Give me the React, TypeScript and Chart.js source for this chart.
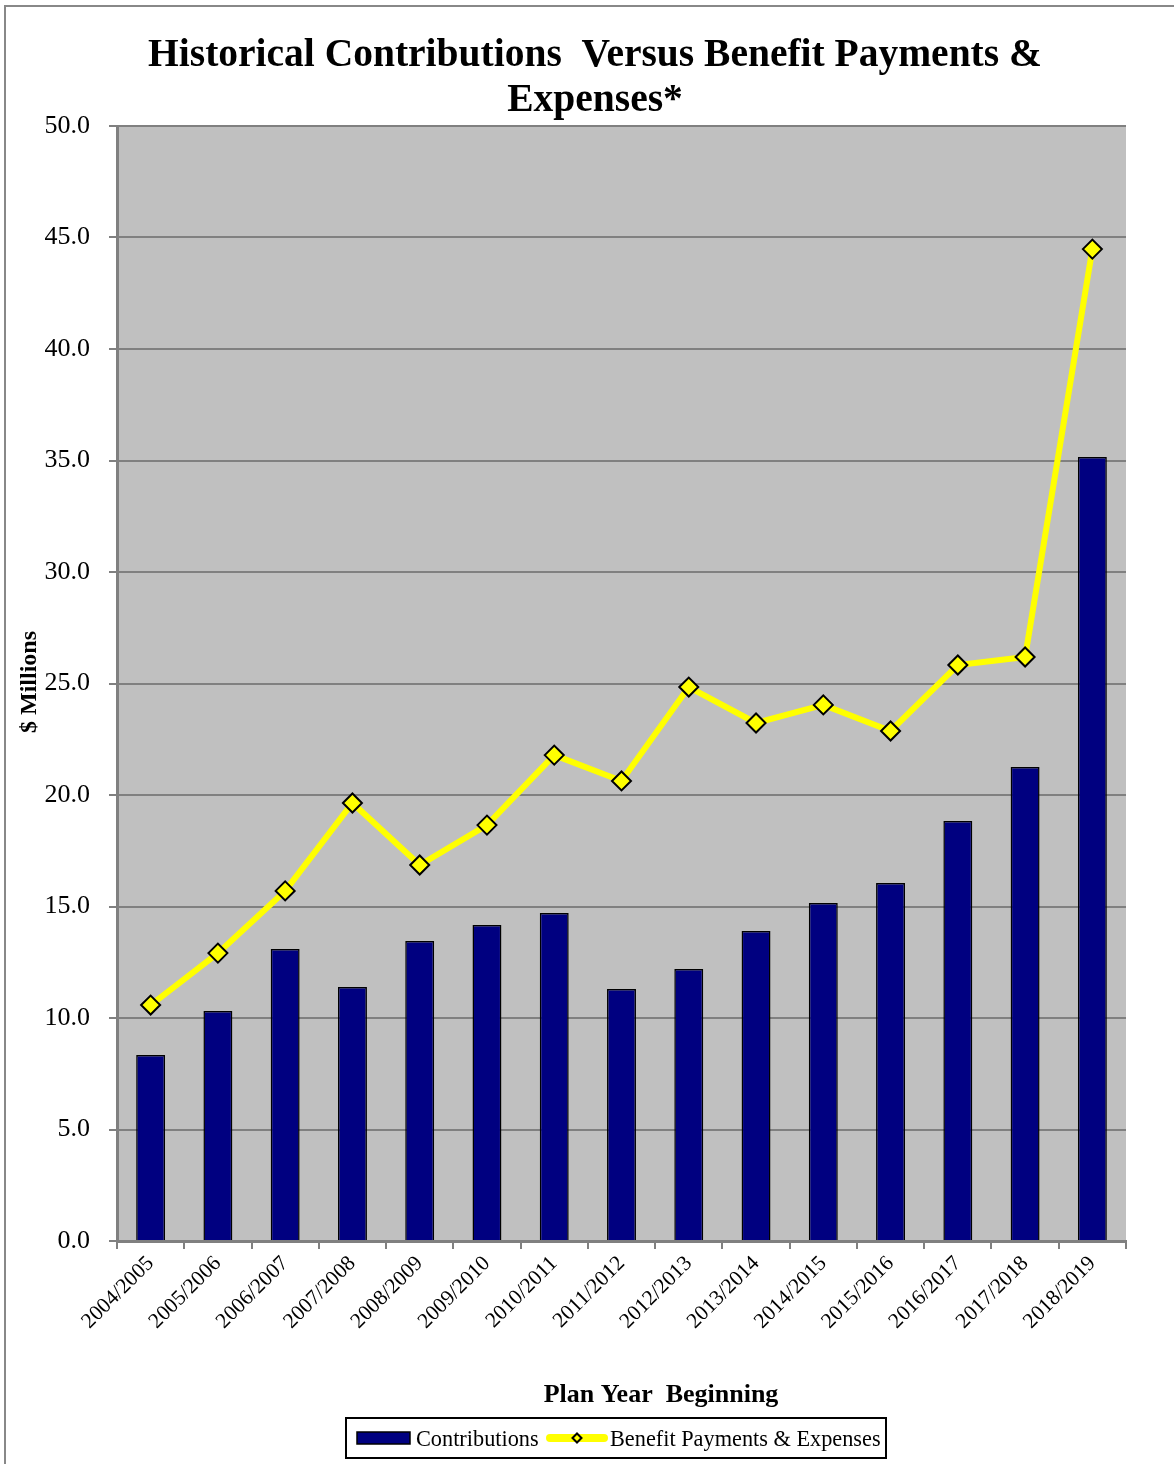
import React, { useEffect, useRef } from "react";
import { Chart, registerables } from "chart.js";

Chart.register(...registerables);

const categories = [
  "2004/2005", "2005/2006", "2006/2007", "2007/2008", "2008/2009",
  "2009/2010", "2010/2011", "2011/2012", "2012/2013", "2013/2014",
  "2014/2015", "2015/2016", "2016/2017", "2017/2018", "2018/2019",
];
const contributions = [8.34, 10.31, 13.09, 11.39, 13.45, 14.17, 14.71, 11.3, 12.2, 13.9, 15.16, 16.05, 18.83, 21.26, 35.16];
const benefits = [10.58, 12.91, 15.7, 19.64, 16.86, 18.65, 21.79, 20.63, 24.84, 23.23, 24.04, 22.87, 25.83, 26.19, 44.48];

const titleLines = ["Historical Contributions  Versus Benefit Payments &", "Expenses*"];
const xTitle = "Plan Year  Beginning";
const yTitle = "$ Millions";
const legendLabels = ["Contributions", "Benefit Payments & Expenses"];

const SERIF = '"Liberation Serif", "Times New Roman", serif';
const NAVY = "#000080";
const YELLOW = "#FFFF00";

const decorPlugin = {
  id: "decor",
  beforeDraw(chart: any) {
    const { ctx, chartArea } = chart;
    ctx.save();
    ctx.fillStyle = "#C0C0C0";
    ctx.fillRect(chartArea.left, chartArea.top, chartArea.right - chartArea.left, chartArea.bottom - chartArea.top);
    ctx.restore();
  },
  afterDraw(chart: any) {
    const { ctx } = chart;
    ctx.save();
    ctx.fillStyle = "#000";
    // title
    ctx.font = `bold 39.5px ${SERIF}`;
    ctx.textAlign = "center";
    ctx.textBaseline = "alphabetic";
    ctx.fillText(titleLines[0], 595, 66);
    ctx.fillText(titleLines[1], 595, 111);
    // x title
    ctx.font = `bold 26px ${SERIF}`;
    ctx.textBaseline = "middle";
    ctx.fillText(xTitle, 661, 1395);
    // y title
    ctx.font = `bold 24px ${SERIF}`;
    ctx.save();
    ctx.translate(30, 682);
    ctx.rotate(-Math.PI / 2);
    ctx.fillText(yTitle, 0, 0);
    ctx.restore();
    // legend
    ctx.lineWidth = 2;
    ctx.strokeStyle = "#000";
    ctx.strokeRect(346, 1418, 540, 40);
    ctx.fillStyle = NAVY;
    ctx.fillRect(357, 1432, 53, 12);
    ctx.lineWidth = 1.5;
    ctx.strokeRect(357, 1432, 53, 12);
    ctx.fillStyle = "#000";
    ctx.font = `22.3px ${SERIF}`;
    ctx.textAlign = "left";
    ctx.textBaseline = "alphabetic";
    ctx.fillText(legendLabels[0], 416, 1446);
    ctx.strokeStyle = YELLOW;
    ctx.lineWidth = 8;
    ctx.lineCap = "round";
    ctx.beginPath();
    ctx.moveTo(550, 1438);
    ctx.lineTo(604, 1438);
    ctx.stroke();
    ctx.beginPath();
    ctx.moveTo(577 - 4.5, 1438);
    ctx.lineTo(577, 1438 - 4.5);
    ctx.lineTo(577 + 4.5, 1438);
    ctx.lineTo(577, 1438 + 4.5);
    ctx.closePath();
    ctx.fillStyle = YELLOW;
    ctx.fill();
    ctx.lineWidth = 2;
    ctx.strokeStyle = "#000";
    ctx.stroke();
    ctx.fillStyle = "#000";
    ctx.fillText(legendLabels[1], 610, 1446);
    ctx.restore();
  },
};

export default function App() {
  const ref = useRef<HTMLCanvasElement>(null);
  useEffect(() => {
    if (!ref.current) return;
    const chart = new Chart(ref.current, {
      type: "bar",
      data: {
        labels: categories,
        datasets: [
          {
            type: "line" as const,
            label: legendLabels[1],
            data: benefits,
            borderColor: YELLOW,
            borderWidth: 6,
            backgroundColor: YELLOW,
            pointStyle: "rectRot",
            pointRadius: 9.5,
            pointBackgroundColor: YELLOW,
            pointBorderColor: "#000",
            pointBorderWidth: 2,
            tension: 0,
            order: 0,
          },
          {
            type: "bar" as const,
            label: legendLabels[0],
            data: contributions,
            backgroundColor: NAVY,
            borderColor: "#000",
            borderWidth: 1.5,
            categoryPercentage: 1,
            barPercentage: 0.43,
            order: 1,
          },
        ],
      },
      options: {
        animation: false,
        responsive: false,
        maintainAspectRatio: false,
        layout: { padding: { top: 126, left: 0, right: 48, bottom: 0 } },
        plugins: {
          legend: { display: false },
          title: { display: false },
          tooltip: { enabled: false },
        },
        scales: {
          x: {
            offset: true,
            grid: {
              offset: true,
              drawOnChartArea: false,
              drawTicks: true,
              tickLength: 8,
              color: "#808080",
              lineWidth: 2,
            },
            border: { display: true, color: "#808080", width: 3 },
            ticks: {
              color: "#000",
              font: { family: SERIF, size: 21.5 },
              minRotation: 45,
              maxRotation: 45,
              autoSkip: false,
              padding: 2,
            },
            afterFit(scale: any) {
              scale.height = 1464 - 1241;
            },
          },
          y: {
            min: 0,
            max: 50,
            grid: {
              color: "#808080",
              lineWidth: 2,
              drawTicks: true,
              tickLength: 8,
            },
            border: { display: true, color: "#808080", width: 3 },
            ticks: {
              stepSize: 5,
              color: "#000",
              font: { family: SERIF, size: 26 },
              padding: 19,
              callback: (v: any) => Number(v).toFixed(1),
            },
            afterFit(scale: any) {
              scale.width = 117;
            },
          },
        },
      },
      plugins: [decorPlugin],
    });
    return () => chart.destroy();
  }, []);
  return (
    <div style={{ position: "absolute", left: 0, top: 0, width: 1174, height: 1464, background: "#fff" }}>
      <div
        style={{
          position: "absolute",
          left: 4,
          top: 5,
          width: 1170,
          height: 1470,
          borderLeft: "2px solid #888",
          borderTop: "2px solid #888",
          boxSizing: "border-box",
        }}
      />
      <canvas ref={ref} width={1174} height={1464} style={{ position: "absolute", left: 0, top: 0, display: "block" }} />
    </div>
  );
}
